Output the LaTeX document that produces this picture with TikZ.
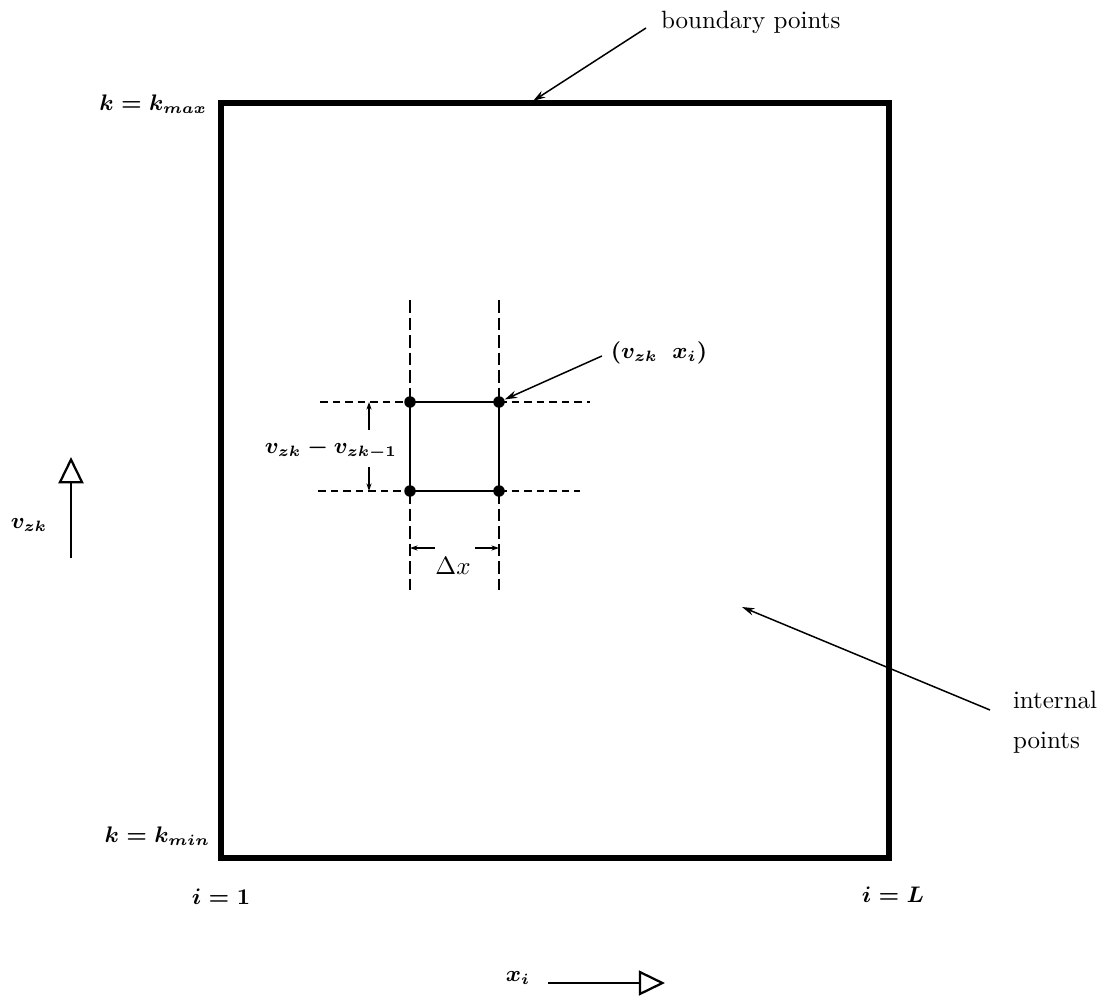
\documentclass[tikz,border=0pt]{standalone}
\usetikzlibrary{arrows.meta}
\begin{document}
\begin{tikzpicture}[x=0.4pt,y=-0.4pt,
  lbl/.style={inner sep=1pt, font=\normalsize},
  mlbl/.style={inner sep=1pt, font=\fontsize{8.6}{10}\selectfont\boldmath},
  frameline/.style={line width=2.4pt},
  grid/.style={line width=0.5pt},
  vdash/.style={grid, dash pattern=on 5pt off 2pt},
  hdash/.style={grid, dash pattern=on 3pt off 2pt},
  sq/.style={line width=0.8pt},
  ptr/.style={line width=0.6pt, -{Stealth[length=5pt,width=3pt]}},
  dim/.style={line width=0.5pt, -{Stealth[length=3pt,width=2pt]}},
  axis/.style={line width=0.9pt, -{Triangle[open,length=10.5pt,width=10pt,line width=0.9pt]}},
  dot/.style={circle, fill=black, inner sep=0pt, minimum size=4.6pt}
]
\useasboundingbox (0,0) rectangle (1101,1001);

% frame
\coordinate (tl) at (221,103);
\coordinate (br) at (889,858);
\draw[frameline] (tl) rectangle (br);

% boundary label
\node[lbl, anchor=west] (bp) at (658,22) {boundary points};
\coordinate (bptarget) at (533,101);
\draw[ptr] (bp.west) ++(-12,6) coordinate (bpstart) -- (bptarget);

% corner labels
\node[mlbl, anchor=east] (kmax) at (210,104) {$k = k_{max}$};
\node[mlbl, anchor=east] (kmin) at (213,836) {$k = k_{min}$};
\node[mlbl] (i1) at (221,897) {$i = 1$};
\node[mlbl] (iL) at (893,895) {$i = L$};

% axes
\node[mlbl] (vzk) at (29,525) {$v_{zk}$};
\coordinate (vbot) at (71,558);
\coordinate (vtop) at (71,457);
\draw[axis] (vbot) -- (vtop);

\node[mlbl] (xi) at (518,978) {$x_i$};
\coordinate (xleft) at (548,983);
\coordinate (xright) at (665,983);
\draw[axis] (xleft) -- (xright);

% internal points
\node[lbl, anchor=west, align=left] (ip) at (1010,722) {internal\\[4pt]points};
\coordinate (iptarget) at (742,607);
\draw[ptr] (990,710) coordinate (ipstart) -- (iptarget);

% grid cell
\coordinate (a) at (410,402);
\coordinate (b) at (499,402);
\coordinate (c) at (410,491);
\coordinate (d) at (499,491);

\draw[vdash] (410,300) -- (a);
\draw[vdash] (c) -- (410,590);
\draw[vdash] (499,300) -- (b);
\draw[vdash] (d) -- (499,590);
\draw[hdash] (320,402) -- (a);
\draw[hdash] (b) -- (590,402);
\draw[hdash] (318,491) -- (c);
\draw[hdash] (d) -- (580,491);

\draw[sq] (a) -- (b) -- (d) -- (c) -- cycle;
\node[dot] (na) at (a) {};
\node[dot] (nb) at (b) {};
\node[dot] (nc) at (c) {};
\node[dot] (nd) at (d) {};

% point label
\node[mlbl] (pt) at (659,353) {$(v_{zk}\ \ x_i)$};
\draw[ptr] (pt.west) ++(-6,3) coordinate (ptstart) -- (nb);

% vertical dimension
\node[mlbl] (dv) at (331,449) {$v_{zk} - v_{zk-1}$};
\coordinate (dvtop) at (369,402);
\coordinate (dvbot) at (369,491);
\draw[dim] (369,430) -- (dvtop);
\draw[dim] (369,467) -- (dvbot);

% horizontal dimension
\node[lbl] (dx) at (453,566) {$\Delta x$};
\coordinate (dxl) at (410,548);
\coordinate (dxr) at (499,548);
\draw[dim] (435,548) -- (dxl);
\draw[dim] (475,548) -- (dxr);
\end{tikzpicture}
\end{document}
